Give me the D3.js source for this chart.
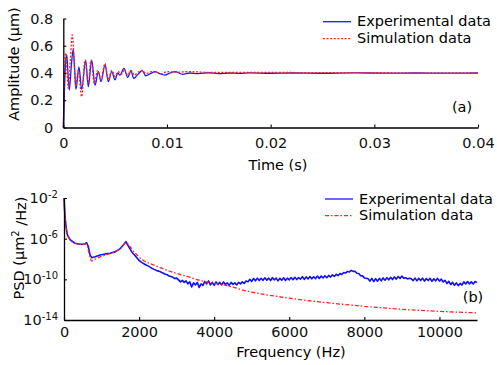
<!DOCTYPE html>
<html>
<head>
<meta charset="utf-8">
<script src="https://cdn.jsdelivr.net/npm/d3@7"></script>
<style>
  body { margin: 0; background: #fff; }
  text { font-family: "DejaVu Sans", sans-serif; }
</style>
</head>
<body>
<svg id="chart" width="497" height="365"></svg>
<script>
// ---- panel (a): step response, time in ms, amplitude in um
var timeTicks = [0, 0.01, 0.02, 0.03, 0.04];
var ampTicks = [0, 0.2, 0.4, 0.6, 0.8];

var expTime = [
  [0, 0], [0.1, 0.25], [0.2, 0.45], [0.33, 0.535], [0.45, 0.4], [0.58, 0.275],
  [0.77, 0.45], [0.96, 0.575], [1.1, 0.42], [1.22, 0.28], [1.51, 0.445],
  [1.77, 0.28], [2.16, 0.495], [2.41, 0.3], [2.74, 0.495], [3.06, 0.31],
  [3.38, 0.41], [3.64, 0.336], [4.02, 0.46], [4.34, 0.336], [4.67, 0.41],
  [4.99, 0.35], [5.25, 0.4], [5.47, 0.385], [5.85, 0.434], [6.21, 0.368],
  [6.53, 0.417], [6.79, 0.36], [7.2, 0.39], [7.62, 0.417], [7.95, 0.38],
  [8.4, 0.395], [8.84, 0.41], [9.3, 0.395], [9.8, 0.385], [10.3, 0.4],
  [10.8, 0.41], [11.5, 0.39], [12.2, 0.4], [13, 0.395], [14, 0.402],
  [15, 0.395], [16, 0.4], [17, 0.397], [18, 0.401], [20, 0.398], [22, 0.4],
  [25, 0.398], [28, 0.401], [31, 0.399], [34, 0.4], [37, 0.399], [40, 0.4]
];

var simTime = [
  [0, 0], [0.1, 0.3], [0.23, 0.545], [0.35, 0.42], [0.48, 0.288], [0.68, 0.5],
  [0.87, 0.68], [1.05, 0.48], [1.2, 0.3], [1.45, 0.42], [1.77, 0.226],
  [2.09, 0.495], [2.41, 0.324], [2.67, 0.495], [2.99, 0.324], [3.31, 0.42],
  [3.64, 0.35], [4.02, 0.47], [4.34, 0.35], [4.67, 0.42], [4.99, 0.375],
  [5.3, 0.41], [5.6, 0.39], [5.9, 0.425], [6.2, 0.385], [6.55, 0.418],
  [6.85, 0.385], [7.2, 0.405], [7.6, 0.42], [8.0, 0.395], [8.5, 0.41],
  [9, 0.405], [9.5, 0.395], [10, 0.41], [11, 0.405], [12, 0.41], [14, 0.405],
  [17, 0.405], [20, 0.404], [25, 0.403], [30, 0.402], [35, 0.401], [40, 0.4]
];

// ---- panel (b): PSD, frequency in Hz, value stored as log10(um^2/Hz)
var freqTicks = [0, 2000, 4000, 6000, 8000, 10000];
var psdTickExp = [-14, -10, -6, -2];

var expPsd = [
  [0, -2], [13, -3.0], [27, -3.8], [53, -4.8], [88, -5.6], [160, -6.1],
  [293, -6.45], [426, -6.55], [540, -6.55], [604, -6.4], [650, -6.8],
  [693, -7.6], [737, -7.87], [830, -7.77], [960, -7.6], [1100, -7.5],
  [1225, -7.44], [1362, -7.3], [1490, -7.0], [1580, -6.62], [1650, -6.3],
  [1710, -6.7], [1800, -7.28], [1900, -7.7],
  [2000, -8.15], [2050, -8.28], [2100, -8.40], [2150, -8.52], [2200, -8.62],
  [2250, -8.70], [2300, -8.82], [2350, -8.93], [2400, -9.02], [2450, -9.10],
  [2500, -9.17], [2550, -9.22], [2600, -9.33], [2650, -9.40], [2700, -9.50],
  [2750, -9.55], [2800, -9.68], [2850, -9.72], [2900, -9.80], [2950, -9.92],
  [3000, -9.88], [3050, -10.05], [3100, -10.25], [3150, -10.10], [3200, -10.30],
  [3250, -10.15], [3300, -10.45], [3350, -10.25], [3400, -10.75], [3450, -10.35],
  [3500, -10.55], [3550, -10.30], [3600, -10.80], [3650, -10.45], [3700, -10.60],
  [3750, -10.20], [3800, -10.45], [3850, -10.15], [3900, -10.55], [3950, -10.30],
  [4000, -10.60], [4050, -10.25], [4100, -10.50], [4150, -10.30], [4200, -10.55],
  [4250, -10.25], [4300, -10.50], [4350, -10.35], [4400, -10.60], [4450, -10.30],
  [4500, -10.50], [4550, -10.35], [4600, -10.55], [4650, -10.30], [4700, -10.45],
  [4750, -10.25], [4800, -10.40], [4850, -10.15], [4900, -10.25], [4950, -10.00],
  [5000, -10.20], [5050, -9.92], [5100, -10.15], [5150, -9.88], [5200, -10.12],
  [5250, -9.90], [5300, -10.10], [5350, -9.85], [5400, -10.08], [5450, -9.88],
  [5500, -10.12], [5550, -9.84], [5600, -10.05], [5650, -9.88], [5700, -10.15],
  [5750, -9.90], [5800, -10.08], [5850, -9.85], [5900, -10.12], [5950, -9.88],
  [6000, -10.05], [6050, -9.82], [6100, -10.04], [6150, -9.80], [6200, -10.02],
  [6250, -9.83], [6300, -9.98], [6350, -9.74], [6400, -10.00], [6450, -9.76],
  [6500, -9.96], [6550, -9.72], [6600, -9.95], [6650, -9.74], [6700, -9.93],
  [6750, -9.68], [6800, -9.92], [6850, -9.68], [6900, -9.86], [6950, -9.64],
  [7000, -9.84], [7050, -9.62], [7100, -9.78], [7150, -9.56], [7200, -9.72],
  [7250, -9.50], [7300, -9.64], [7350, -9.43], [7400, -9.52], [7450, -9.33],
  [7500, -9.38], [7550, -9.22], [7600, -9.27], [7650, -9.12], [7700, -9.22],
  [7750, -9.22], [7800, -9.40], [7850, -9.42], [7900, -9.64], [7950, -9.66],
  [8000, -9.86], [8050, -9.90], [8100, -9.95], [8150, -10.18], [8200, -9.90],
  [8250, -10.22], [8300, -9.93], [8350, -10.18], [8400, -9.90], [8450, -10.15],
  [8500, -9.86], [8550, -10.08], [8600, -9.84], [8650, -10.05], [8700, -9.80],
  [8750, -10.02], [8800, -9.76], [8850, -9.98], [8900, -9.72], [8950, -9.92],
  [9000, -9.68], [9050, -9.88], [9100, -9.84], [9150, -9.96], [9200, -9.90],
  [9250, -9.95], [9300, -10.12], [9350, -9.88], [9400, -10.15], [9450, -9.90],
  [9500, -10.12], [9550, -9.88], [9600, -10.18], [9650, -9.92], [9700, -10.12],
  [9750, -9.90], [9800, -10.20], [9850, -9.94], [9900, -10.15], [9950, -9.90],
  [10000, -10.18], [10050, -9.98], [10100, -10.26], [10150, -10.10], [10200, -10.42],
  [10250, -10.20], [10300, -10.52], [10350, -10.30], [10400, -10.58], [10450, -10.35],
  [10500, -10.62], [10550, -10.40], [10600, -10.56], [10650, -10.25], [10700, -10.45],
  [10750, -10.22], [10800, -10.45], [10850, -10.25], [10900, -10.46], [10950, -10.22],
  [11000, -10.32]
];

var simPsd = [
  [0, -2], [13, -3.0], [27, -3.8], [53, -4.8], [90, -5.6], [160, -6.1],
  [290, -6.45], [430, -6.55], [560, -6.55], [600, -6.5], [640, -7.0],
  [690, -7.8], [740, -8.2], [840, -8.0], [1000, -7.75], [1200, -7.5],
  [1400, -7.2], [1540, -6.85], [1650, -6.36], [1760, -6.8], [1900, -7.44],
  [2100, -8.1], [2400, -8.6], [2850, -9.24], [3300, -9.74], [3750, -10.23],
  [4180, -10.5], [4550, -10.82], [4700, -10.99], [5000, -11.25], [6000, -11.85],
  [7000, -12.3], [8000, -12.65], [9000, -12.95], [10000, -13.15], [11000, -13.3]
];

var legendLabels = ["Experimental data", "Simulation data"];

var svg = d3.select("#chart");
var FONT = 14.5;

// ---------- panel (a)
var xA = d3.scaleLinear().domain([0, 0.04]).range([63.3, 478]);
var yA = d3.scaleLinear().domain([0, 0.8]).range([127.5, 18.5]);

var gA = svg.append("g");

var lineA = d3.line()
    .x(function (d) { return xA(d[0] / 1000); })
    .y(function (d) { return yA(d[1]); })
    .curve(d3.curveMonotoneX);

gA.append("path").datum(expTime)
    .attr("d", lineA).attr("fill", "none")
    .attr("stroke", "#1a1aff").attr("stroke-width", 1.3);
gA.append("path").datum(simTime)
    .attr("d", lineA).attr("fill", "none")
    .attr("stroke", "#ff2020").attr("stroke-width", 1.3)
    .attr("stroke-dasharray", "2,1.6");

function styleAxis(g) {
    g.select(".domain").attr("stroke", "#000").attr("stroke-width", 1.3);
    g.selectAll(".tick line").attr("stroke", "#000").attr("stroke-width", 1.1);
    g.selectAll(".tick text").attr("font-size", FONT)
        .attr("font-family", "DejaVu Sans").attr("fill", "#111");
}

gA.append("g")
    .attr("transform", "translate(0," + yA(0) + ")")
    .call(d3.axisBottom(xA).tickValues(timeTicks)
        .tickFormat(function (d) { return d === 0 ? "0" : String(d); })
        .tickSizeInner(-3).tickSizeOuter(0).tickPadding(10.5))
    .call(styleAxis);

gA.append("g")
    .attr("transform", "translate(" + xA(0) + ",0)")
    .call(d3.axisLeft(yA).tickValues(ampTicks)
        .tickFormat(function (d) { return d === 0 ? "0" : d3.format(".1f")(d); })
        .tickSizeInner(-3).tickSizeOuter(0).tickPadding(10))
    .call(styleAxis);

gA.append("text")
    .attr("transform", "translate(14,64) rotate(-90)")
    .attr("text-anchor", "middle").attr("dy", "0.35em")
    .attr("font-size", FONT).text("Amplitude (\u00b5m)");

gA.append("text")
    .attr("x", 278).attr("y", 170)
    .attr("text-anchor", "middle")
    .attr("font-size", FONT).text("Time (s)");

gA.append("text")
    .attr("x", 462).attr("y", 112)
    .attr("text-anchor", "middle")
    .attr("font-size", FONT).text("(a)");

// ---------- panel (b)
var xB = d3.scaleLinear().domain([0, 11000]).range([64, 477]);
var yB = d3.scaleLog().domain([1e-14, 1e-2]).range([320, 198]);

var gB = svg.append("g");

var lineB = d3.line()
    .x(function (d) { return xB(d[0]); })
    .y(function (d) { return yB(Math.pow(10, d[1])); });

gB.append("path").datum(expPsd)
    .attr("d", lineB).attr("fill", "none")
    .attr("stroke", "#1010ff").attr("stroke-width", 1.6)
    .attr("stroke-linejoin", "round");
gB.append("path").datum(simPsd)
    .attr("d", lineB.curve(d3.curveMonotoneX)).attr("fill", "none")
    .attr("stroke", "#ff2020").attr("stroke-width", 1.3)
    .attr("stroke-dasharray", "4,2,1.5,2");

gB.append("g")
    .attr("transform", "translate(0," + yB(1e-14) + ")")
    .call(d3.axisBottom(xB).tickValues(freqTicks)
        .tickFormat(d3.format("d"))
        .tickSizeInner(-3).tickSizeOuter(0).tickPadding(6.5))
    .call(styleAxis);

var yAxisB = gB.append("g")
    .attr("transform", "translate(" + xB(0) + ",0)")
    .call(d3.axisLeft(yB).tickValues(psdTickExp.map(function (e) { return Math.pow(10, e); }))
        .tickFormat(function () { return ""; })
        .tickSizeInner(-3).tickSizeOuter(0).tickPadding(6))
    .call(styleAxis);

yAxisB.selectAll(".tick text").each(function (d, i) {
    var t = d3.select(this);
    t.append("tspan").text("10");
    t.append("tspan").attr("dy", "-0.55em").attr("font-size", 10)
        .text(psdTickExp[i]);
});

var psdLabel = gB.append("text")
    .attr("transform", "translate(19,248) rotate(-90)")
    .attr("text-anchor", "middle").attr("dy", "0.35em")
    .attr("font-size", FONT);
psdLabel.append("tspan").text("PSD (\u00b5m");
psdLabel.append("tspan").attr("dy", "-0.5em").attr("font-size", 10).text("2");
psdLabel.append("tspan").attr("dy", "0.5em").text(" /Hz)");

gB.append("text")
    .attr("x", 291).attr("y", 357)
    .attr("text-anchor", "middle")
    .attr("font-size", FONT).text("Frequency (Hz)");

gB.append("text")
    .attr("x", 473).attr("y", 302)
    .attr("text-anchor", "middle")
    .attr("font-size", FONT).text("(b)");

// ---------- legends
function legend(x, y0, y1, dash) {
    var g = svg.append("g");
    var rows = [
        { y: y0, color: "#1a1aff", dash: null },
        { y: y1, color: "#ff2020", dash: dash }
    ];
    rows.forEach(function (r, i) {
        g.append("line")
            .attr("x1", x).attr("x2", x + 28)
            .attr("y1", r.y).attr("y2", r.y)
            .attr("stroke", r.color).attr("stroke-width", 1.3)
            .attr("stroke-dasharray", r.dash);
        g.append("text")
            .attr("x", x + 34).attr("y", r.y + 4.5)
            .attr("font-size", FONT).text(legendLabels[i]);
    });
}
legend(323, 21.7, 38.7, "2,1.6");
legend(325, 199, 215.7, "4,2,1.5,2");
</script>
</body>
</html>
